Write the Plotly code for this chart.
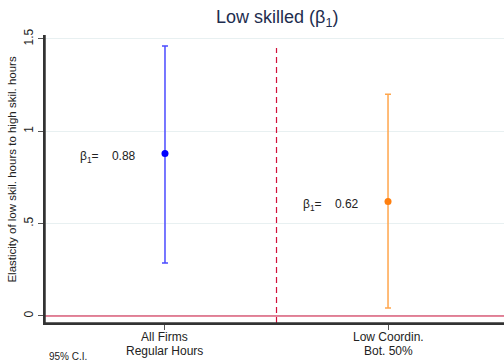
import plotly.graph_objects as go

cat_line1 = ["All Firms", "Low Coordin."]
cat_line2 = ["Regular Hours", "Bot. 50%"]
x_pos = [1, 2]
estimates = [0.88, 0.62]
ci_upper = [1.462, 1.20]
ci_lower = [0.287, 0.043]
point_colors = ["#0000ff", "#ff7f0e"]
bar_colors = ["#4b4bff", "#ffa64d"]
y_ticks = [0, 0.5, 1, 1.5]
y_tick_text = ["0", ".5", "1", "1.5"]

fig = go.Figure()
for i in range(2):
    fig.add_trace(go.Scatter(
        x=[x_pos[i]], y=[estimates[i]], mode="markers",
        marker=dict(color=point_colors[i], size=7),
        error_y=dict(type="data", symmetric=False,
                     array=[ci_upper[i] - estimates[i]],
                     arrayminus=[estimates[i] - ci_lower[i]],
                     color=bar_colors[i], thickness=1.5, width=3),
        showlegend=False, hoverinfo="skip"))
    fig.add_annotation(x=x_pos[i], y=estimates[i], xref="x", yref="y",
                       text="β<sub>1</sub>=    %.2f" % estimates[i],
                       showarrow=False, xanchor="right", xshift=-27, yshift=-4,
                       font=dict(size=12, color="#222222"))
    fig.add_annotation(x=x_pos[i], y=-0.049, xref="x", yref="paper",
                       text=cat_line1[i], showarrow=False, yanchor="middle",
                       font=dict(size=12, color="#222222"))
    fig.add_annotation(x=x_pos[i], y=-0.097, xref="x", yref="paper",
                       text=cat_line2[i], showarrow=False, yanchor="middle",
                       font=dict(size=12, color="#222222"))

fig.add_shape(type="line", xref="x", yref="y", x0=1.5, x1=1.5, y0=-0.038, y1=1.45,
              line=dict(color="#d0103a", width=1.2, dash="6px,4px"))
fig.add_shape(type="line", xref="paper", yref="y", x0=0, x1=1, y0=0, y1=0,
              line=dict(color="#d0103a", width=1.2))
# axis lines
fig.add_shape(type="line", xref="paper", yref="paper", x0=0, x1=1, y0=0, y1=0,
              line=dict(color="#333333", width=1.5), layer="above")
fig.add_shape(type="line", xref="paper", yref="paper", x0=0, x1=0, y0=0, y1=1,
              line=dict(color="#333333", width=1.5), layer="above")

fig.add_annotation(text="95% C.I.", xref="paper", yref="paper", x=0.004, y=-0.115,
                   xanchor="left", yanchor="middle", showarrow=False,
                   font=dict(size=10, color="#222222"))

fig.add_annotation(text="Elasticity of low skil. hours to high skil. hours",
                   xref="paper", yref="paper", x=-0.072, y=0.536, textangle=-90,
                   xanchor="center", yanchor="middle", showarrow=False,
                   font=dict(size=11.5, color="#222222"))

fig.update_layout(
    width=504, height=361,
    margin=dict(l=45, r=0, t=35, b=38),
    plot_bgcolor="white", paper_bgcolor="white",
    font=dict(family="Liberation Sans, Arial, sans-serif", color="#222222"),
    title=dict(text="Low skilled (β<sub>1</sub>)", x=0.55, xanchor="center",
               y=0.953, yanchor="middle",
               font=dict(size=18, color="#1e2d4f")),
    xaxis=dict(range=[0.462, 2.52], tickvals=x_pos, ticktext=["", ""],
               showgrid=False, zeroline=False, showline=True,
               linecolor="#333333", linewidth=1.5,
               ticks="outside", ticklen=5,
               tickcolor="#555555", tickfont=dict(size=11, color="#222222")),
    yaxis=dict(range=[-0.038, 1.521], tickvals=y_ticks, ticktext=y_tick_text,
               tickangle=-90, showgrid=True, gridcolor="#e8f0f1", gridwidth=1,
               zeroline=False, showline=True, linecolor="#333333", linewidth=1.5,
               ticks="outside", ticklen=5, tickcolor="#555555",
               tickfont=dict(size=12, color="#222222")),
)

fig.write_html("out.html")
